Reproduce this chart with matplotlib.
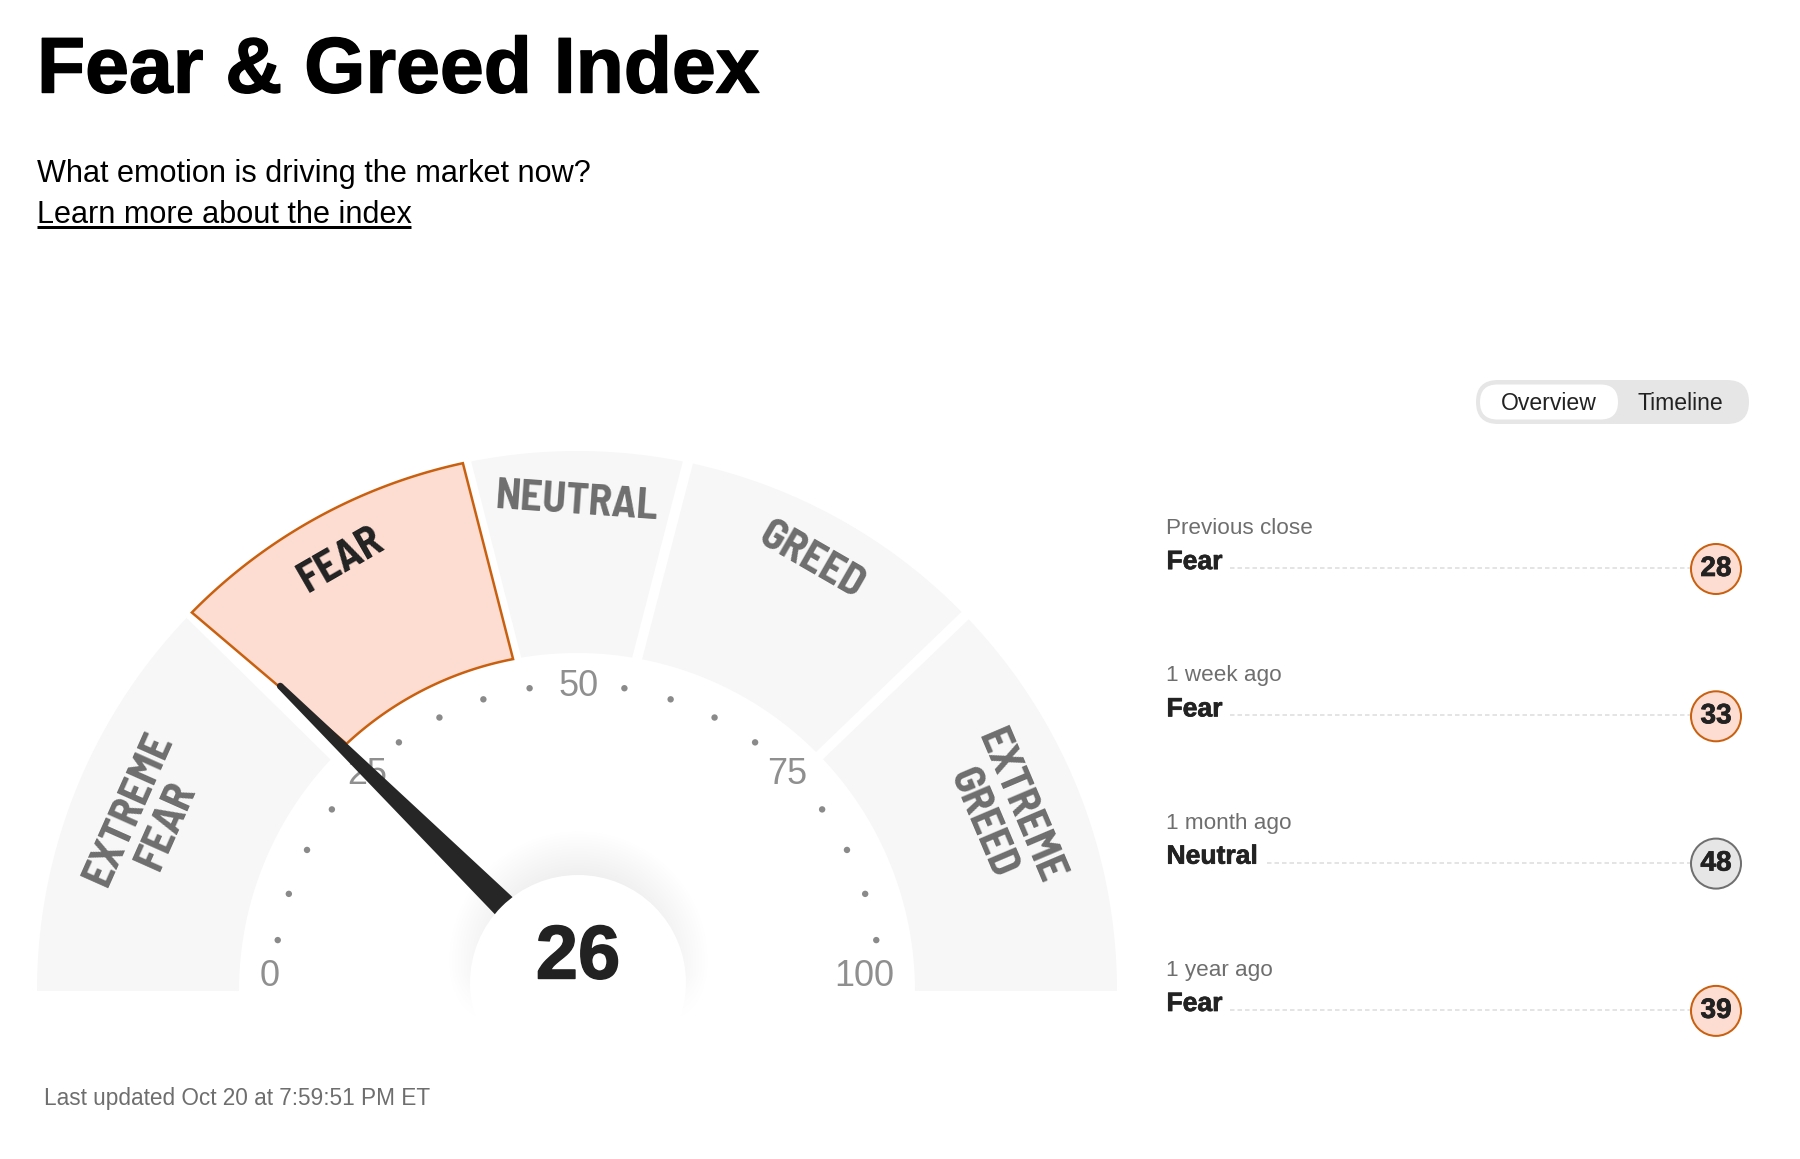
import matplotlib
matplotlib.use("Agg")
import matplotlib.pyplot as plt
from matplotlib.patches import Circle, FancyBboxPatch
from matplotlib import patheffects as pe
import numpy as np

# gauge data
zone_names = ["EXTREME\nFEAR", "FEAR", "NEUTRAL", "GREED", "EXTREME\nGREED"]
zone_edges = [0, 25, 44, 56, 75, 100]
current_value = 26
current_zone = 1
scale_labels = [0, 25, 50, 75, 100]
dot_values = [5, 10, 15, 20, 30, 35, 40, 45, 55, 60, 65, 70, 80, 85, 90, 95]

# history list on the right
hist_when = ["Previous close", "1 week ago", "1 month ago", "1 year ago"]
hist_rating = ["Fear", "Fear", "Neutral", "Fear"]
hist_value = [28, 33, 48, 39]

W, H = 1800, 1159
CX, CY = 577, 991
R_OUT, R_IN = 540, 338
SANS = ["Liberation Sans", "DejaVu Sans"]
NARROW = ["Barlow Semi Condensed", "Liberation Sans", "DejaVu Sans"]


def px(size):
    return size * 0.72


def ang(v):
    return np.radians(180 - 1.8 * v)


fig = plt.figure(figsize=(W / 100, H / 100), dpi=100)
ax = fig.add_axes([0, 0, 1, 1])
ax.set_xlim(0, W)
ax.set_ylim(H, 0)
ax.axis("off")

# header
heavy = [pe.withStroke(linewidth=1.0, foreground="black")]
ax.text(37, 72, "Fear & Greed Index", fontsize=px(78.8), fontweight="bold", family=SANS,
        color="black", ha="left", va="center", path_effects=heavy)
ax.text(37, 174, "What emotion is driving the market now?", fontsize=px(30.7), family=SANS,
        color="black", ha="left", va="center")
ax.text(37, 215, "Learn more about the index", fontsize=px(30.7), family=SANS,
        color="black", ha="left", va="center")
ax.plot([37, 411], [227, 227], color="black", lw=px(3), solid_capstyle="butt")

# gauge zones, degrees added to each zone edge (outer, inner) to leave the white gaps
zone_out = [(0, 1.3), (0.5, 1.4), (0.5, -0.5), (-1.6, -0.4), (-1.5, 0)]
zone_in = [(0, 1.8), (-2.0, 0.1), (-1.3, 1.4), (-0.3, 0), (-1.7, 0)]
for i in range(len(zone_names)):
    a0, a1 = np.degrees(ang(zone_edges[i])), np.degrees(ang(zone_edges[i + 1]))
    t_o = np.radians(np.linspace(a0 + zone_out[i][0], a1 + zone_out[i][1], 120))
    t_i = np.radians(np.linspace(a1 + zone_in[i][1], a0 + zone_in[i][0], 120))
    xs = np.r_[CX + R_OUT * np.cos(t_o), CX + R_IN * np.cos(t_i)]
    ys = np.r_[CY - R_OUT * np.sin(t_o), CY - R_IN * np.sin(t_i)]
    if i == current_zone:
        ax.fill(xs, ys, facecolor="#fddcd1", edgecolor="#c9600f", lw=px(2.5), zorder=3)
    else:
        ax.fill(xs, ys, facecolor="#f7f7f7", edgecolor="none", zorder=2)

label_pos = [(148, 817), (341, 560), (577, 502), (811, 561), (1001, 815)]
label_rot = [66, 30, -4, -30, -67]
for i, name in enumerate(zone_names):
    ax.text(label_pos[i][0], label_pos[i][1], name, rotation=label_rot[i], rotation_mode="anchor",
            ha="center", va="center", multialignment="center", linespacing=1.08,
            fontsize=px(43), fontweight="bold", family=NARROW,
            color="#222222" if i == current_zone else "#6e6e6e", zorder=4)

# scale dots and numbers
for v in dot_values:
    x, y = CX + 303 * np.cos(ang(v)), 987.5 - 303 * np.sin(ang(v))
    ax.add_patch(Circle((x, y), 3.2, facecolor="#8a8a8a", edgecolor="none", zorder=3))
label_shift = {0: (-6, -14), 25: (3, -4), 50: (2, -3), 75: (-3, -4), 100: (-14, -14)}
for v in scale_labels:
    x, y = CX + 301 * np.cos(ang(v)), CY - 301 * np.sin(ang(v))
    ax.text(x + label_shift[v][0], y + label_shift[v][1], str(v), fontsize=px(36), family=SANS,
            color="#8f8f8f", ha="center", va="center", zorder=3)

# soft shadow behind hub
gx, gy = np.meshgrid(np.arange(430, 730), np.arange(810, 1040))
dist = np.hypot(gx - 578, gy - 960)
alpha = 0.065 * np.clip((132 - dist) / 47, 0, 1)
alpha = alpha * np.clip((1025 - gy) / 50, 0, 1)
glow = np.zeros(gx.shape + (4,))
glow[..., 3] = alpha
ax.imshow(glow, extent=(430, 730, 1040, 810), origin="upper", aspect="auto", zorder=5)
ax.set_xlim(0, W)
ax.set_ylim(H, 0)

# needle
a = ang(current_value) + np.radians(2.3)
d = np.array([np.cos(a), -np.sin(a)])
n = np.array([d[1], -d[0]])
pivot = np.array([CX + 13.5, CY])
tip = pivot + d * 435
base = pivot + d * 105
needle = np.array([tip + n * 3.3, tip - n * 3.3, base - n * 12.8, base + n * 12.8])
ax.fill(needle[:, 0], needle[:, 1], color="#262626", lw=0, zorder=6)
ax.add_patch(Circle(tip, 3.3, color="#262626", lw=0, zorder=6))

ax.add_patch(Circle((578, 983), 108, facecolor="white", edgecolor="none", zorder=7))
ax.text(CX + 1, 959, str(current_value), fontsize=px(76), fontweight="bold", family=SANS,
        color="#222222", ha="center", va="center", zorder=8,
        path_effects=[pe.withStroke(linewidth=1.0, foreground="#222222")])

ax.text(44, 1099, "Last updated Oct 20 at 7:59:51 PM ET", fontsize=px(22.6), family=SANS,
        color="#6e6e6e", ha="left", va="center")

# overview / timeline toggle
ax.add_patch(FancyBboxPatch((1476, 380), 273, 44, boxstyle="round,pad=0,rounding_size=22",
                            facecolor="#e6e6e6", edgecolor="none"))
ax.add_patch(FancyBboxPatch((1480, 384.5), 138, 35, boxstyle="round,pad=0,rounding_size=17.5",
                            facecolor="white", edgecolor="none"))
ax.text(1549, 403, "Overview", fontsize=px(23), family=SANS, color="#222222", ha="center", va="center")
ax.text(1680, 403, "Timeline", fontsize=px(23), family=SANS, color="#222222", ha="center", va="center")

# history rows
rating_end = {"Fear": 1230, "Neutral": 1267}
for i in range(len(hist_when)):
    yc = 569 + i * 147.3
    ax.text(1166.5, yc - 40.3, hist_when[i], fontsize=px(22.5), family=SANS, color="#6e6e6e",
            ha="left", va="center")
    ax.text(1166.5, yc - 6.9, hist_rating[i], fontsize=px(26.5), fontweight="bold", family=SANS,
            color="#222222", ha="left", va="center",
            path_effects=[pe.withStroke(linewidth=0.5, foreground="#222222")])
    ax.plot([rating_end[hist_rating[i]], 1690], [yc - 1, yc - 1], color="#dcdcdc", lw=px(1.5),
            ls=(0, (3, 2)))
    is_fear = hist_rating[i] == "Fear"
    ax.add_patch(Circle((1716, yc), 25, facecolor="#fddcd1" if is_fear else "#e6e6e6",
                        edgecolor="#c9600f" if is_fear else "#6f6f6f", lw=px(2), zorder=3))
    ax.text(1716, yc, str(hist_value[i]), fontsize=px(28), fontweight="bold", family=SANS,
            color="#222222", ha="center", va="center", zorder=4,
            path_effects=[pe.withStroke(linewidth=0.5, foreground="#222222")])

fig.savefig("out.png", dpi=100, facecolor="white")
